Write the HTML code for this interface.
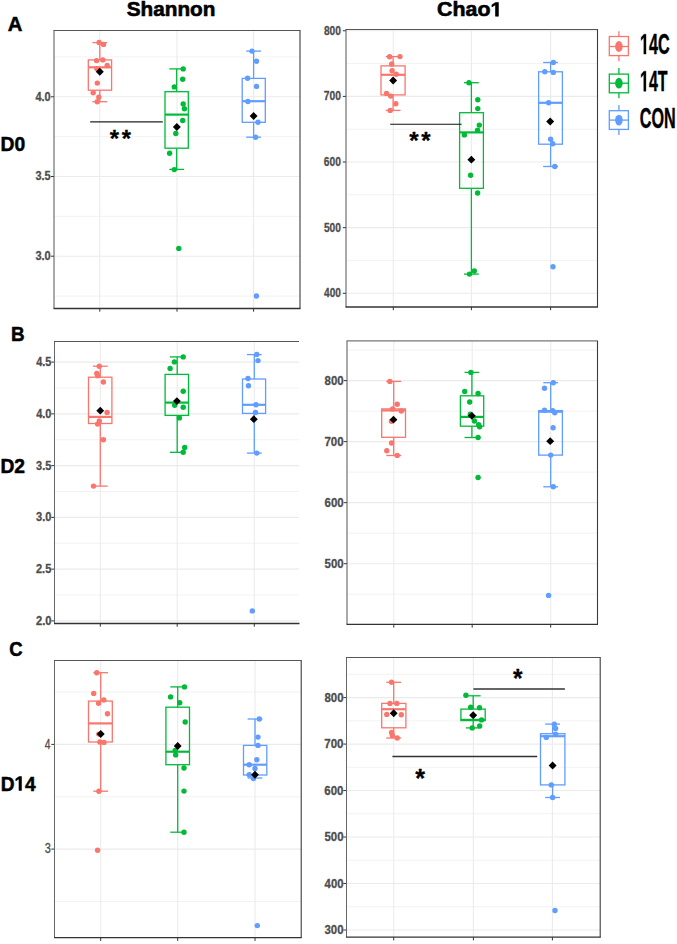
<!DOCTYPE html><html><head><meta charset="utf-8"><style>html,body{margin:0;padding:0;background:#fff;}svg{display:block;font-family:"Liberation Sans", sans-serif;}</style></head><body><svg width="677" height="944" viewBox="0 0 677 944" font-family="Liberation Sans, sans-serif">
<rect width="677" height="944" fill="#fff"/>
<line x1="54.00" y1="56.95" x2="300.00" y2="56.95" stroke="#F0F0F0" stroke-width="0.9"/>
<line x1="54.00" y1="136.65" x2="300.00" y2="136.65" stroke="#F0F0F0" stroke-width="0.9"/>
<line x1="54.00" y1="216.35" x2="300.00" y2="216.35" stroke="#F0F0F0" stroke-width="0.9"/>
<line x1="54.00" y1="296.05" x2="300.00" y2="296.05" stroke="#F0F0F0" stroke-width="0.9"/>
<line x1="54.00" y1="96.80" x2="300.00" y2="96.80" stroke="#EBEBEB" stroke-width="1.1"/>
<line x1="54.00" y1="176.50" x2="300.00" y2="176.50" stroke="#EBEBEB" stroke-width="1.1"/>
<line x1="54.00" y1="256.20" x2="300.00" y2="256.20" stroke="#EBEBEB" stroke-width="1.1"/>
<line x1="99.80" y1="30.50" x2="99.80" y2="308.50" stroke="#EBEBEB" stroke-width="1.1"/>
<line x1="177.00" y1="30.50" x2="177.00" y2="308.50" stroke="#EBEBEB" stroke-width="1.1"/>
<line x1="253.60" y1="30.50" x2="253.60" y2="308.50" stroke="#EBEBEB" stroke-width="1.1"/>
<line x1="50.80" y1="96.80" x2="54.00" y2="96.80" stroke="#333" stroke-width="1"/>
<g transform="translate(35.48,100.52) scale(0.8332,1)" fill="#4D4D4D" stroke="#4D4D4D" stroke-width="0.3"><text x="0.00" y="0" font-size="13.14" font-weight="bold">4.0</text></g>
<line x1="50.80" y1="176.50" x2="54.00" y2="176.50" stroke="#333" stroke-width="1"/>
<g transform="translate(35.40,180.20) scale(0.8316,1)" fill="#4D4D4D" stroke="#4D4D4D" stroke-width="0.3"><text x="0.00" y="0" font-size="13.11" font-weight="bold">3.5</text></g>
<line x1="50.80" y1="256.20" x2="54.00" y2="256.20" stroke="#333" stroke-width="1"/>
<g transform="translate(35.40,259.90) scale(0.8399,1)" fill="#4D4D4D" stroke="#4D4D4D" stroke-width="0.3"><text x="0.00" y="0" font-size="13.11" font-weight="bold">3.0</text></g>
<line x1="99.80" y1="308.50" x2="99.80" y2="311.70" stroke="#333" stroke-width="1"/>
<line x1="177.00" y1="308.50" x2="177.00" y2="311.70" stroke="#333" stroke-width="1"/>
<line x1="253.60" y1="308.50" x2="253.60" y2="311.70" stroke="#333" stroke-width="1"/>
<line x1="99.80" y1="42.60" x2="99.80" y2="59.90" stroke="#F8766D" stroke-width="1.3"/>
<line x1="99.80" y1="90.20" x2="99.80" y2="101.70" stroke="#F8766D" stroke-width="1.3"/>
<line x1="92.40" y1="42.60" x2="107.20" y2="42.60" stroke="#F8766D" stroke-width="1.3"/>
<line x1="92.40" y1="101.70" x2="107.20" y2="101.70" stroke="#F8766D" stroke-width="1.3"/>
<rect x="88.30" y="59.90" width="23.30" height="30.30" fill="none" stroke="#F8766D" stroke-width="1.3"/>
<line x1="88.30" y1="67.30" x2="111.60" y2="67.30" stroke="#F8766D" stroke-width="2.2"/>
<circle cx="99.1" cy="42.5" r="2.7" fill="#F8766D"/>
<circle cx="103.5" cy="44.4" r="2.7" fill="#F8766D"/>
<circle cx="96.6" cy="60.6" r="2.7" fill="#F8766D"/>
<circle cx="102.8" cy="59.9" r="2.7" fill="#F8766D"/>
<circle cx="107.2" cy="65.5" r="2.7" fill="#F8766D"/>
<circle cx="96.9" cy="68.7" r="2.7" fill="#F8766D"/>
<circle cx="97.3" cy="83.1" r="2.7" fill="#F8766D"/>
<circle cx="93.2" cy="92.8" r="2.7" fill="#F8766D"/>
<circle cx="98.8" cy="97.1" r="2.7" fill="#F8766D"/>
<circle cx="97.3" cy="101.7" r="2.7" fill="#F8766D"/>
<path d="M99.8 67.8L103.8 71.7L99.8 75.7L95.8 71.7Z" fill="#000"/>
<line x1="176.70" y1="68.90" x2="176.70" y2="91.70" stroke="#00BA38" stroke-width="1.3"/>
<line x1="176.70" y1="148.20" x2="176.70" y2="169.40" stroke="#00BA38" stroke-width="1.3"/>
<line x1="169.30" y1="68.90" x2="184.10" y2="68.90" stroke="#00BA38" stroke-width="1.3"/>
<line x1="169.30" y1="169.40" x2="184.10" y2="169.40" stroke="#00BA38" stroke-width="1.3"/>
<rect x="165.00" y="91.70" width="23.30" height="56.50" fill="none" stroke="#00BA38" stroke-width="1.3"/>
<line x1="165.00" y1="114.60" x2="188.30" y2="114.60" stroke="#00BA38" stroke-width="2.2"/>
<circle cx="183.2" cy="68.9" r="2.7" fill="#00BA38"/>
<circle cx="182.7" cy="79.2" r="2.7" fill="#00BA38"/>
<circle cx="174.3" cy="86.9" r="2.7" fill="#00BA38"/>
<circle cx="183.2" cy="103.9" r="2.7" fill="#00BA38"/>
<circle cx="184.4" cy="108.8" r="2.7" fill="#00BA38"/>
<circle cx="182.7" cy="120.5" r="2.7" fill="#00BA38"/>
<circle cx="175.8" cy="133.5" r="2.7" fill="#00BA38"/>
<circle cx="169.6" cy="153.2" r="2.7" fill="#00BA38"/>
<circle cx="174.3" cy="169.6" r="2.7" fill="#00BA38"/>
<circle cx="178.8" cy="248.4" r="2.7" fill="#00BA38"/>
<path d="M176.8 123.1L180.8 127.1L176.8 131.0L172.9 127.1Z" fill="#000"/>
<line x1="253.60" y1="51.10" x2="253.60" y2="78.40" stroke="#619CFF" stroke-width="1.3"/>
<line x1="253.60" y1="122.30" x2="253.60" y2="137.20" stroke="#619CFF" stroke-width="1.3"/>
<line x1="246.20" y1="51.10" x2="261.00" y2="51.10" stroke="#619CFF" stroke-width="1.3"/>
<line x1="246.20" y1="137.20" x2="261.00" y2="137.20" stroke="#619CFF" stroke-width="1.3"/>
<rect x="242.20" y="78.40" width="23.10" height="43.90" fill="none" stroke="#619CFF" stroke-width="1.3"/>
<line x1="242.20" y1="101.20" x2="265.30" y2="101.20" stroke="#619CFF" stroke-width="2.2"/>
<circle cx="252.0" cy="51.1" r="2.7" fill="#619CFF"/>
<circle cx="256.5" cy="61.2" r="2.7" fill="#619CFF"/>
<circle cx="247.6" cy="78.3" r="2.7" fill="#619CFF"/>
<circle cx="256.5" cy="86.4" r="2.7" fill="#619CFF"/>
<circle cx="247.9" cy="101.5" r="2.7" fill="#619CFF"/>
<circle cx="258.0" cy="122.3" r="2.7" fill="#619CFF"/>
<circle cx="255.6" cy="137.2" r="2.7" fill="#619CFF"/>
<circle cx="256.4" cy="296.0" r="2.7" fill="#619CFF"/>
<path d="M253.6 112.1L257.6 116.1L253.6 120.0L249.7 116.1Z" fill="#000"/>
<line x1="54.00" y1="30.50" x2="54.00" y2="308.50" stroke="#555" stroke-width="1.0"/>
<line x1="53.50" y1="30.50" x2="300.50" y2="30.50" stroke="#555" stroke-width="1.1"/>
<line x1="300.00" y1="30.50" x2="300.00" y2="308.50" stroke="#3c3c3c" stroke-width="1.1"/>
<line x1="53.50" y1="308.50" x2="300.50" y2="308.50" stroke="#333" stroke-width="1.3"/>
<line x1="346.00" y1="63.58" x2="597.50" y2="63.58" stroke="#F0F0F0" stroke-width="0.9"/>
<line x1="346.00" y1="129.22" x2="597.50" y2="129.22" stroke="#F0F0F0" stroke-width="0.9"/>
<line x1="346.00" y1="194.85" x2="597.50" y2="194.85" stroke="#F0F0F0" stroke-width="0.9"/>
<line x1="346.00" y1="260.48" x2="597.50" y2="260.48" stroke="#F0F0F0" stroke-width="0.9"/>
<line x1="346.00" y1="30.77" x2="597.50" y2="30.77" stroke="#EBEBEB" stroke-width="1.1"/>
<line x1="346.00" y1="96.40" x2="597.50" y2="96.40" stroke="#EBEBEB" stroke-width="1.1"/>
<line x1="346.00" y1="162.03" x2="597.50" y2="162.03" stroke="#EBEBEB" stroke-width="1.1"/>
<line x1="346.00" y1="227.67" x2="597.50" y2="227.67" stroke="#EBEBEB" stroke-width="1.1"/>
<line x1="346.00" y1="293.30" x2="597.50" y2="293.30" stroke="#EBEBEB" stroke-width="1.1"/>
<line x1="393.30" y1="29.50" x2="393.30" y2="307.00" stroke="#EBEBEB" stroke-width="1.1"/>
<line x1="471.40" y1="29.50" x2="471.40" y2="307.00" stroke="#EBEBEB" stroke-width="1.1"/>
<line x1="550.60" y1="29.50" x2="550.60" y2="307.00" stroke="#EBEBEB" stroke-width="1.1"/>
<line x1="342.80" y1="30.77" x2="346.00" y2="30.77" stroke="#333" stroke-width="1"/>
<g transform="translate(323.93,34.79) scale(0.7777,1)" fill="#4D4D4D" stroke="#4D4D4D" stroke-width="0.3"><text x="0.00" y="0" font-size="13.14" font-weight="bold">800</text></g>
<line x1="342.80" y1="96.40" x2="346.00" y2="96.40" stroke="#333" stroke-width="1"/>
<g transform="translate(323.81,100.42) scale(0.7832,1)" fill="#4D4D4D" stroke="#4D4D4D" stroke-width="0.3"><text x="0.00" y="0" font-size="13.14" font-weight="bold">700</text></g>
<line x1="342.80" y1="162.03" x2="346.00" y2="162.03" stroke="#333" stroke-width="1"/>
<g transform="translate(323.87,166.06) scale(0.7800,1)" fill="#4D4D4D" stroke="#4D4D4D" stroke-width="0.3"><text x="0.00" y="0" font-size="13.14" font-weight="bold">600</text></g>
<line x1="342.80" y1="227.67" x2="346.00" y2="227.67" stroke="#333" stroke-width="1"/>
<g transform="translate(323.94,231.69) scale(0.7772,1)" fill="#4D4D4D" stroke="#4D4D4D" stroke-width="0.3"><text x="0.00" y="0" font-size="13.14" font-weight="bold">500</text></g>
<line x1="342.80" y1="293.30" x2="346.00" y2="293.30" stroke="#333" stroke-width="1"/>
<g transform="translate(324.10,297.32) scale(0.7697,1)" fill="#4D4D4D" stroke="#4D4D4D" stroke-width="0.3"><text x="0.00" y="0" font-size="13.14" font-weight="bold">400</text></g>
<line x1="393.30" y1="307.00" x2="393.30" y2="310.20" stroke="#333" stroke-width="1"/>
<line x1="471.40" y1="307.00" x2="471.40" y2="310.20" stroke="#333" stroke-width="1"/>
<line x1="550.60" y1="307.00" x2="550.60" y2="310.20" stroke="#333" stroke-width="1"/>
<line x1="393.10" y1="56.60" x2="393.10" y2="65.90" stroke="#F8766D" stroke-width="1.3"/>
<line x1="393.10" y1="94.90" x2="393.10" y2="110.40" stroke="#F8766D" stroke-width="1.3"/>
<line x1="385.70" y1="56.60" x2="400.50" y2="56.60" stroke="#F8766D" stroke-width="1.3"/>
<line x1="385.70" y1="110.40" x2="400.50" y2="110.40" stroke="#F8766D" stroke-width="1.3"/>
<rect x="381.00" y="65.90" width="24.10" height="29.00" fill="none" stroke="#F8766D" stroke-width="1.3"/>
<line x1="381.00" y1="74.80" x2="405.10" y2="74.80" stroke="#F8766D" stroke-width="2.2"/>
<circle cx="389.6" cy="56.8" r="2.7" fill="#F8766D"/>
<circle cx="400.0" cy="56.6" r="2.7" fill="#F8766D"/>
<circle cx="391.7" cy="64.0" r="2.7" fill="#F8766D"/>
<circle cx="392.1" cy="70.7" r="2.7" fill="#F8766D"/>
<circle cx="396.2" cy="74.2" r="2.7" fill="#F8766D"/>
<circle cx="386.5" cy="93.4" r="2.7" fill="#F8766D"/>
<circle cx="390.7" cy="96.1" r="2.7" fill="#F8766D"/>
<circle cx="395.8" cy="103.7" r="2.7" fill="#F8766D"/>
<circle cx="390.2" cy="110.4" r="2.7" fill="#F8766D"/>
<path d="M393.1 76.5L397.1 80.4L393.1 84.4L389.2 80.4Z" fill="#000"/>
<line x1="471.40" y1="82.70" x2="471.40" y2="112.70" stroke="#00BA38" stroke-width="1.3"/>
<line x1="471.40" y1="188.30" x2="471.40" y2="274.10" stroke="#00BA38" stroke-width="1.3"/>
<line x1="464.00" y1="82.70" x2="478.80" y2="82.70" stroke="#00BA38" stroke-width="1.3"/>
<line x1="464.00" y1="274.10" x2="478.80" y2="274.10" stroke="#00BA38" stroke-width="1.3"/>
<rect x="459.60" y="112.70" width="23.80" height="75.60" fill="none" stroke="#00BA38" stroke-width="1.3"/>
<line x1="459.60" y1="132.40" x2="483.40" y2="132.40" stroke="#00BA38" stroke-width="2.2"/>
<circle cx="469.0" cy="82.7" r="2.7" fill="#00BA38"/>
<circle cx="477.8" cy="99.7" r="2.7" fill="#00BA38"/>
<circle cx="477.8" cy="108.6" r="2.7" fill="#00BA38"/>
<circle cx="479.3" cy="125.1" r="2.7" fill="#00BA38"/>
<circle cx="477.6" cy="130.3" r="2.7" fill="#00BA38"/>
<circle cx="464.4" cy="134.9" r="2.7" fill="#00BA38"/>
<circle cx="470.6" cy="175.2" r="2.7" fill="#00BA38"/>
<circle cx="477.6" cy="193.0" r="2.7" fill="#00BA38"/>
<circle cx="469.5" cy="274.1" r="2.7" fill="#00BA38"/>
<circle cx="474.3" cy="271.0" r="2.7" fill="#00BA38"/>
<path d="M471.4 155.8L475.3 159.7L471.4 163.6L467.4 159.7Z" fill="#000"/>
<line x1="550.60" y1="62.50" x2="550.60" y2="71.80" stroke="#619CFF" stroke-width="1.3"/>
<line x1="550.60" y1="144.20" x2="550.60" y2="166.50" stroke="#619CFF" stroke-width="1.3"/>
<line x1="543.20" y1="62.50" x2="558.00" y2="62.50" stroke="#619CFF" stroke-width="1.3"/>
<line x1="543.20" y1="166.50" x2="558.00" y2="166.50" stroke="#619CFF" stroke-width="1.3"/>
<rect x="538.60" y="71.80" width="23.80" height="72.40" fill="none" stroke="#619CFF" stroke-width="1.3"/>
<line x1="538.60" y1="102.80" x2="562.40" y2="102.80" stroke="#619CFF" stroke-width="2.2"/>
<circle cx="553.3" cy="62.5" r="2.7" fill="#619CFF"/>
<circle cx="544.8" cy="71.8" r="2.7" fill="#619CFF"/>
<circle cx="553.3" cy="72.4" r="2.7" fill="#619CFF"/>
<circle cx="548.6" cy="102.8" r="2.7" fill="#619CFF"/>
<circle cx="550.6" cy="139.2" r="2.7" fill="#619CFF"/>
<circle cx="552.7" cy="143.7" r="2.7" fill="#619CFF"/>
<circle cx="554.8" cy="166.5" r="2.7" fill="#619CFF"/>
<circle cx="553.0" cy="266.7" r="2.7" fill="#619CFF"/>
<path d="M550.2 117.6L554.2 121.6L550.2 125.5L546.2 121.6Z" fill="#000"/>
<line x1="346.00" y1="29.50" x2="346.00" y2="307.00" stroke="#555" stroke-width="1.0"/>
<line x1="345.50" y1="29.50" x2="598.00" y2="29.50" stroke="#555" stroke-width="1.1"/>
<line x1="597.50" y1="29.50" x2="597.50" y2="307.00" stroke="#3c3c3c" stroke-width="1.1"/>
<line x1="345.50" y1="307.00" x2="598.00" y2="307.00" stroke="#333" stroke-width="1.3"/>
<line x1="54.50" y1="387.98" x2="299.00" y2="387.98" stroke="#F0F0F0" stroke-width="0.9"/>
<line x1="54.50" y1="439.74" x2="299.00" y2="439.74" stroke="#F0F0F0" stroke-width="0.9"/>
<line x1="54.50" y1="491.50" x2="299.00" y2="491.50" stroke="#F0F0F0" stroke-width="0.9"/>
<line x1="54.50" y1="543.26" x2="299.00" y2="543.26" stroke="#F0F0F0" stroke-width="0.9"/>
<line x1="54.50" y1="595.02" x2="299.00" y2="595.02" stroke="#F0F0F0" stroke-width="0.9"/>
<line x1="54.50" y1="362.10" x2="299.00" y2="362.10" stroke="#EBEBEB" stroke-width="1.1"/>
<line x1="54.50" y1="413.86" x2="299.00" y2="413.86" stroke="#EBEBEB" stroke-width="1.1"/>
<line x1="54.50" y1="465.62" x2="299.00" y2="465.62" stroke="#EBEBEB" stroke-width="1.1"/>
<line x1="54.50" y1="517.38" x2="299.00" y2="517.38" stroke="#EBEBEB" stroke-width="1.1"/>
<line x1="54.50" y1="569.14" x2="299.00" y2="569.14" stroke="#EBEBEB" stroke-width="1.1"/>
<line x1="54.50" y1="620.90" x2="299.00" y2="620.90" stroke="#EBEBEB" stroke-width="1.1"/>
<line x1="100.30" y1="341.50" x2="100.30" y2="623.50" stroke="#EBEBEB" stroke-width="1.1"/>
<line x1="177.20" y1="341.50" x2="177.20" y2="623.50" stroke="#EBEBEB" stroke-width="1.1"/>
<line x1="254.30" y1="341.50" x2="254.30" y2="623.50" stroke="#EBEBEB" stroke-width="1.1"/>
<line x1="51.30" y1="362.10" x2="54.50" y2="362.10" stroke="#333" stroke-width="1"/>
<g transform="translate(36.18,366.12) scale(0.8187,1)" fill="#4D4D4D" stroke="#4D4D4D" stroke-width="0.3"><text x="0.00" y="0" font-size="13.33" font-weight="bold">4.5</text></g>
<line x1="51.30" y1="413.86" x2="54.50" y2="413.86" stroke="#333" stroke-width="1"/>
<g transform="translate(36.18,417.88) scale(0.8389,1)" fill="#4D4D4D" stroke="#4D4D4D" stroke-width="0.3"><text x="0.00" y="0" font-size="13.14" font-weight="bold">4.0</text></g>
<line x1="51.30" y1="465.62" x2="54.50" y2="465.62" stroke="#333" stroke-width="1"/>
<g transform="translate(36.10,469.62) scale(0.8373,1)" fill="#4D4D4D" stroke="#4D4D4D" stroke-width="0.3"><text x="0.00" y="0" font-size="13.11" font-weight="bold">3.5</text></g>
<line x1="51.30" y1="517.38" x2="54.50" y2="517.38" stroke="#333" stroke-width="1"/>
<g transform="translate(36.10,521.38) scale(0.8456,1)" fill="#4D4D4D" stroke="#4D4D4D" stroke-width="0.3"><text x="0.00" y="0" font-size="13.11" font-weight="bold">3.0</text></g>
<line x1="51.30" y1="569.14" x2="54.50" y2="569.14" stroke="#333" stroke-width="1"/>
<g transform="translate(35.97,573.16) scale(0.8429,1)" fill="#4D4D4D" stroke="#4D4D4D" stroke-width="0.3"><text x="0.00" y="0" font-size="13.14" font-weight="bold">2.5</text></g>
<line x1="51.30" y1="620.90" x2="54.50" y2="620.90" stroke="#333" stroke-width="1"/>
<g transform="translate(35.96,624.92) scale(0.8514,1)" fill="#4D4D4D" stroke="#4D4D4D" stroke-width="0.3"><text x="0.00" y="0" font-size="13.14" font-weight="bold">2.0</text></g>
<line x1="100.30" y1="623.50" x2="100.30" y2="626.70" stroke="#333" stroke-width="1"/>
<line x1="177.20" y1="623.50" x2="177.20" y2="626.70" stroke="#333" stroke-width="1"/>
<line x1="254.30" y1="623.50" x2="254.30" y2="626.70" stroke="#333" stroke-width="1"/>
<line x1="100.30" y1="366.20" x2="100.30" y2="377.20" stroke="#F8766D" stroke-width="1.3"/>
<line x1="100.30" y1="423.50" x2="100.30" y2="486.10" stroke="#F8766D" stroke-width="1.3"/>
<line x1="92.90" y1="366.20" x2="107.70" y2="366.20" stroke="#F8766D" stroke-width="1.3"/>
<line x1="92.90" y1="486.10" x2="107.70" y2="486.10" stroke="#F8766D" stroke-width="1.3"/>
<rect x="88.50" y="377.20" width="23.40" height="46.30" fill="none" stroke="#F8766D" stroke-width="1.3"/>
<line x1="88.50" y1="416.90" x2="111.90" y2="416.90" stroke="#F8766D" stroke-width="2.2"/>
<circle cx="99.3" cy="366.2" r="2.7" fill="#F8766D"/>
<circle cx="96.8" cy="373.5" r="2.7" fill="#F8766D"/>
<circle cx="97.8" cy="375.8" r="2.7" fill="#F8766D"/>
<circle cx="103.4" cy="382.0" r="2.7" fill="#F8766D"/>
<circle cx="107.1" cy="412.4" r="2.7" fill="#F8766D"/>
<circle cx="99.3" cy="421.0" r="2.7" fill="#F8766D"/>
<circle cx="97.6" cy="424.1" r="2.7" fill="#F8766D"/>
<circle cx="103.4" cy="439.7" r="2.7" fill="#F8766D"/>
<circle cx="93.5" cy="486.1" r="2.7" fill="#F8766D"/>
<path d="M100.3 406.8L104.2 410.7L100.3 414.6L96.3 410.7Z" fill="#000"/>
<line x1="177.20" y1="356.90" x2="177.20" y2="374.40" stroke="#00BA38" stroke-width="1.3"/>
<line x1="177.20" y1="415.40" x2="177.20" y2="452.30" stroke="#00BA38" stroke-width="1.3"/>
<line x1="169.80" y1="356.90" x2="184.60" y2="356.90" stroke="#00BA38" stroke-width="1.3"/>
<line x1="169.80" y1="452.30" x2="184.60" y2="452.30" stroke="#00BA38" stroke-width="1.3"/>
<rect x="165.10" y="374.40" width="23.40" height="41.00" fill="none" stroke="#00BA38" stroke-width="1.3"/>
<line x1="165.10" y1="402.60" x2="188.50" y2="402.60" stroke="#00BA38" stroke-width="2.2"/>
<circle cx="183.2" cy="356.9" r="2.7" fill="#00BA38"/>
<circle cx="174.4" cy="361.9" r="2.7" fill="#00BA38"/>
<circle cx="170.1" cy="368.4" r="2.7" fill="#00BA38"/>
<circle cx="183.2" cy="391.3" r="2.7" fill="#00BA38"/>
<circle cx="174.7" cy="405.3" r="2.7" fill="#00BA38"/>
<circle cx="183.2" cy="407.3" r="2.7" fill="#00BA38"/>
<circle cx="179.4" cy="417.9" r="2.7" fill="#00BA38"/>
<circle cx="184.7" cy="447.5" r="2.7" fill="#00BA38"/>
<circle cx="183.2" cy="452.3" r="2.7" fill="#00BA38"/>
<path d="M176.9 397.2L180.8 401.1L176.9 405.1L173.0 401.1Z" fill="#000"/>
<line x1="254.30" y1="354.60" x2="254.30" y2="379.00" stroke="#619CFF" stroke-width="1.3"/>
<line x1="254.30" y1="413.40" x2="254.30" y2="453.10" stroke="#619CFF" stroke-width="1.3"/>
<line x1="246.90" y1="354.60" x2="261.70" y2="354.60" stroke="#619CFF" stroke-width="1.3"/>
<line x1="246.90" y1="453.10" x2="261.70" y2="453.10" stroke="#619CFF" stroke-width="1.3"/>
<rect x="242.50" y="379.00" width="23.10" height="34.40" fill="none" stroke="#619CFF" stroke-width="1.3"/>
<line x1="242.50" y1="404.80" x2="265.60" y2="404.80" stroke="#619CFF" stroke-width="2.2"/>
<circle cx="256.8" cy="354.4" r="2.7" fill="#619CFF"/>
<circle cx="258.0" cy="360.6" r="2.7" fill="#619CFF"/>
<circle cx="248.0" cy="378.5" r="2.7" fill="#619CFF"/>
<circle cx="248.5" cy="385.8" r="2.7" fill="#619CFF"/>
<circle cx="256.0" cy="404.8" r="2.7" fill="#619CFF"/>
<circle cx="255.5" cy="412.4" r="2.7" fill="#619CFF"/>
<circle cx="256.8" cy="453.1" r="2.7" fill="#619CFF"/>
<circle cx="252.3" cy="610.9" r="2.7" fill="#619CFF"/>
<path d="M253.8 415.2L257.8 419.2L253.8 423.1L249.9 419.2Z" fill="#000"/>
<line x1="54.50" y1="341.50" x2="54.50" y2="623.50" stroke="#666" stroke-width="1.0"/>
<line x1="54.00" y1="341.50" x2="299.00" y2="341.50" stroke="#555" stroke-width="1.1"/>
<line x1="54.00" y1="623.50" x2="299.50" y2="623.50" stroke="#333" stroke-width="1.3"/>
<line x1="347.00" y1="350.08" x2="597.50" y2="350.08" stroke="#F0F0F0" stroke-width="0.9"/>
<line x1="347.00" y1="411.12" x2="597.50" y2="411.12" stroke="#F0F0F0" stroke-width="0.9"/>
<line x1="347.00" y1="472.15" x2="597.50" y2="472.15" stroke="#F0F0F0" stroke-width="0.9"/>
<line x1="347.00" y1="533.18" x2="597.50" y2="533.18" stroke="#F0F0F0" stroke-width="0.9"/>
<line x1="347.00" y1="594.22" x2="597.50" y2="594.22" stroke="#F0F0F0" stroke-width="0.9"/>
<line x1="347.00" y1="380.60" x2="597.50" y2="380.60" stroke="#EBEBEB" stroke-width="1.1"/>
<line x1="347.00" y1="441.63" x2="597.50" y2="441.63" stroke="#EBEBEB" stroke-width="1.1"/>
<line x1="347.00" y1="502.67" x2="597.50" y2="502.67" stroke="#EBEBEB" stroke-width="1.1"/>
<line x1="347.00" y1="563.70" x2="597.50" y2="563.70" stroke="#EBEBEB" stroke-width="1.1"/>
<line x1="393.80" y1="340.90" x2="393.80" y2="624.40" stroke="#EBEBEB" stroke-width="1.1"/>
<line x1="472.20" y1="340.90" x2="472.20" y2="624.40" stroke="#EBEBEB" stroke-width="1.1"/>
<line x1="550.70" y1="340.90" x2="550.70" y2="624.40" stroke="#EBEBEB" stroke-width="1.1"/>
<line x1="343.80" y1="380.60" x2="347.00" y2="380.60" stroke="#333" stroke-width="1"/>
<g transform="translate(324.59,384.62) scale(0.8731,1)" fill="#4D4D4D" stroke="#4D4D4D" stroke-width="0.3"><text x="0.00" y="0" font-size="13.14" font-weight="bold">800</text></g>
<line x1="343.80" y1="441.63" x2="347.00" y2="441.63" stroke="#333" stroke-width="1"/>
<g transform="translate(324.45,445.66) scale(0.8793,1)" fill="#4D4D4D" stroke="#4D4D4D" stroke-width="0.3"><text x="0.00" y="0" font-size="13.14" font-weight="bold">700</text></g>
<line x1="343.80" y1="502.67" x2="347.00" y2="502.67" stroke="#333" stroke-width="1"/>
<g transform="translate(324.53,506.69) scale(0.8758,1)" fill="#4D4D4D" stroke="#4D4D4D" stroke-width="0.3"><text x="0.00" y="0" font-size="13.14" font-weight="bold">600</text></g>
<line x1="343.80" y1="563.70" x2="347.00" y2="563.70" stroke="#333" stroke-width="1"/>
<g transform="translate(324.60,567.72) scale(0.8725,1)" fill="#4D4D4D" stroke="#4D4D4D" stroke-width="0.3"><text x="0.00" y="0" font-size="13.14" font-weight="bold">500</text></g>
<line x1="393.80" y1="624.40" x2="393.80" y2="627.60" stroke="#333" stroke-width="1"/>
<line x1="472.20" y1="624.40" x2="472.20" y2="627.60" stroke="#333" stroke-width="1"/>
<line x1="550.70" y1="624.40" x2="550.70" y2="627.60" stroke="#333" stroke-width="1"/>
<line x1="393.70" y1="381.40" x2="393.70" y2="408.90" stroke="#F8766D" stroke-width="1.3"/>
<line x1="393.70" y1="437.30" x2="393.70" y2="455.50" stroke="#F8766D" stroke-width="1.3"/>
<line x1="386.30" y1="381.40" x2="401.10" y2="381.40" stroke="#F8766D" stroke-width="1.3"/>
<line x1="386.30" y1="455.50" x2="401.10" y2="455.50" stroke="#F8766D" stroke-width="1.3"/>
<rect x="381.70" y="408.90" width="23.80" height="28.40" fill="none" stroke="#F8766D" stroke-width="1.3"/>
<line x1="381.70" y1="410.40" x2="405.50" y2="410.40" stroke="#F8766D" stroke-width="2.2"/>
<circle cx="389.9" cy="381.4" r="2.7" fill="#F8766D"/>
<circle cx="397.2" cy="404.2" r="2.7" fill="#F8766D"/>
<circle cx="392.6" cy="408.9" r="2.7" fill="#F8766D"/>
<circle cx="401.3" cy="411.0" r="2.7" fill="#F8766D"/>
<circle cx="391.4" cy="421.3" r="2.7" fill="#F8766D"/>
<circle cx="391.6" cy="443.0" r="2.7" fill="#F8766D"/>
<circle cx="386.8" cy="450.7" r="2.7" fill="#F8766D"/>
<circle cx="397.2" cy="455.4" r="2.7" fill="#F8766D"/>
<path d="M393.5 415.8L397.4 419.7L393.5 423.6L389.6 419.7Z" fill="#000"/>
<line x1="471.90" y1="372.40" x2="471.90" y2="395.80" stroke="#00BA38" stroke-width="1.3"/>
<line x1="471.90" y1="426.20" x2="471.90" y2="437.50" stroke="#00BA38" stroke-width="1.3"/>
<line x1="464.50" y1="372.40" x2="479.30" y2="372.40" stroke="#00BA38" stroke-width="1.3"/>
<line x1="464.50" y1="437.50" x2="479.30" y2="437.50" stroke="#00BA38" stroke-width="1.3"/>
<rect x="460.40" y="395.80" width="23.30" height="30.40" fill="none" stroke="#00BA38" stroke-width="1.3"/>
<line x1="460.40" y1="416.90" x2="483.70" y2="416.90" stroke="#00BA38" stroke-width="2.2"/>
<circle cx="470.9" cy="372.4" r="2.7" fill="#00BA38"/>
<circle cx="464.7" cy="391.4" r="2.7" fill="#00BA38"/>
<circle cx="478.1" cy="393.5" r="2.7" fill="#00BA38"/>
<circle cx="469.7" cy="402.0" r="2.7" fill="#00BA38"/>
<circle cx="470.3" cy="414.2" r="2.7" fill="#00BA38"/>
<circle cx="474.4" cy="421.0" r="2.7" fill="#00BA38"/>
<circle cx="478.6" cy="424.7" r="2.7" fill="#00BA38"/>
<circle cx="479.6" cy="426.8" r="2.7" fill="#00BA38"/>
<circle cx="478.1" cy="437.5" r="2.7" fill="#00BA38"/>
<circle cx="478.1" cy="477.5" r="2.7" fill="#00BA38"/>
<path d="M471.9 411.9L475.8 415.8L471.9 419.8L467.9 415.8Z" fill="#000"/>
<line x1="550.70" y1="382.70" x2="550.70" y2="410.60" stroke="#619CFF" stroke-width="1.3"/>
<line x1="550.70" y1="455.10" x2="550.70" y2="486.80" stroke="#619CFF" stroke-width="1.3"/>
<line x1="543.30" y1="382.70" x2="558.10" y2="382.70" stroke="#619CFF" stroke-width="1.3"/>
<line x1="543.30" y1="486.80" x2="558.10" y2="486.80" stroke="#619CFF" stroke-width="1.3"/>
<rect x="538.70" y="410.60" width="23.70" height="44.50" fill="none" stroke="#619CFF" stroke-width="1.3"/>
<line x1="538.70" y1="411.70" x2="562.40" y2="411.70" stroke="#619CFF" stroke-width="2.2"/>
<circle cx="553.3" cy="382.7" r="2.7" fill="#619CFF"/>
<circle cx="544.5" cy="388.3" r="2.7" fill="#619CFF"/>
<circle cx="544.5" cy="410.2" r="2.7" fill="#619CFF"/>
<circle cx="552.7" cy="410.6" r="2.7" fill="#619CFF"/>
<circle cx="554.8" cy="412.7" r="2.7" fill="#619CFF"/>
<circle cx="553.1" cy="427.8" r="2.7" fill="#619CFF"/>
<circle cx="550.7" cy="455.1" r="2.7" fill="#619CFF"/>
<circle cx="553.3" cy="486.8" r="2.7" fill="#619CFF"/>
<circle cx="548.6" cy="595.4" r="2.7" fill="#619CFF"/>
<path d="M550.2 437.2L554.2 441.2L550.2 445.1L546.2 441.2Z" fill="#000"/>
<line x1="347.00" y1="340.90" x2="347.00" y2="624.40" stroke="#555" stroke-width="1.0"/>
<line x1="346.50" y1="340.90" x2="598.00" y2="340.90" stroke="#777" stroke-width="1.1"/>
<line x1="597.50" y1="340.90" x2="597.50" y2="624.40" stroke="#3c3c3c" stroke-width="1.1"/>
<line x1="346.50" y1="624.40" x2="598.00" y2="624.40" stroke="#333" stroke-width="1.3"/>
<line x1="54.50" y1="692.05" x2="301.20" y2="692.05" stroke="#F0F0F0" stroke-width="0.9"/>
<line x1="54.50" y1="796.75" x2="301.20" y2="796.75" stroke="#F0F0F0" stroke-width="0.9"/>
<line x1="54.50" y1="901.45" x2="301.20" y2="901.45" stroke="#F0F0F0" stroke-width="0.9"/>
<line x1="54.50" y1="744.40" x2="301.20" y2="744.40" stroke="#EBEBEB" stroke-width="1.1"/>
<line x1="54.50" y1="849.10" x2="301.20" y2="849.10" stroke="#EBEBEB" stroke-width="1.1"/>
<line x1="100.70" y1="660.50" x2="100.70" y2="937.70" stroke="#EBEBEB" stroke-width="1.1"/>
<line x1="177.70" y1="660.50" x2="177.70" y2="937.70" stroke="#EBEBEB" stroke-width="1.1"/>
<line x1="255.00" y1="660.50" x2="255.00" y2="937.70" stroke="#EBEBEB" stroke-width="1.1"/>
<line x1="51.30" y1="744.40" x2="54.50" y2="744.40" stroke="#333" stroke-width="1"/>
<g transform="translate(44.81,748.75) scale(0.7171,1)" fill="#4D4D4D" stroke="#4D4D4D" stroke-width="0.3"><text x="0.00" y="0" font-size="14.39" font-weight="normal">4</text></g>
<line x1="51.30" y1="849.10" x2="54.50" y2="849.10" stroke="#333" stroke-width="1"/>
<g transform="translate(44.63,853.31) scale(0.7844,1)" fill="#4D4D4D" stroke="#4D4D4D" stroke-width="0.3"><text x="0.00" y="0" font-size="13.98" font-weight="normal">3</text></g>
<line x1="100.70" y1="937.70" x2="100.70" y2="940.90" stroke="#333" stroke-width="1"/>
<line x1="177.70" y1="937.70" x2="177.70" y2="940.90" stroke="#333" stroke-width="1"/>
<line x1="255.00" y1="937.70" x2="255.00" y2="940.90" stroke="#333" stroke-width="1"/>
<line x1="100.70" y1="672.70" x2="100.70" y2="701.10" stroke="#F8766D" stroke-width="1.3"/>
<line x1="100.70" y1="742.00" x2="100.70" y2="791.20" stroke="#F8766D" stroke-width="1.3"/>
<line x1="93.30" y1="672.70" x2="108.10" y2="672.70" stroke="#F8766D" stroke-width="1.3"/>
<line x1="93.30" y1="791.20" x2="108.10" y2="791.20" stroke="#F8766D" stroke-width="1.3"/>
<rect x="88.50" y="701.10" width="23.80" height="40.90" fill="none" stroke="#F8766D" stroke-width="1.3"/>
<line x1="88.50" y1="723.40" x2="112.30" y2="723.40" stroke="#F8766D" stroke-width="2.2"/>
<circle cx="96.8" cy="672.7" r="2.7" fill="#F8766D"/>
<circle cx="93.7" cy="693.4" r="2.7" fill="#F8766D"/>
<circle cx="103.8" cy="700.0" r="2.7" fill="#F8766D"/>
<circle cx="98.6" cy="703.3" r="2.7" fill="#F8766D"/>
<circle cx="107.5" cy="713.7" r="2.7" fill="#F8766D"/>
<circle cx="98.8" cy="734.1" r="2.7" fill="#F8766D"/>
<circle cx="99.9" cy="742.0" r="2.7" fill="#F8766D"/>
<circle cx="104.0" cy="742.4" r="2.7" fill="#F8766D"/>
<circle cx="98.9" cy="791.2" r="2.7" fill="#F8766D"/>
<circle cx="97.6" cy="850.2" r="2.7" fill="#F8766D"/>
<path d="M100.7 730.1L104.7 734.1L100.7 738.1L96.8 734.1Z" fill="#000"/>
<line x1="177.70" y1="686.90" x2="177.70" y2="707.20" stroke="#00BA38" stroke-width="1.3"/>
<line x1="177.70" y1="764.70" x2="177.70" y2="832.20" stroke="#00BA38" stroke-width="1.3"/>
<line x1="170.30" y1="686.90" x2="185.10" y2="686.90" stroke="#00BA38" stroke-width="1.3"/>
<line x1="170.30" y1="832.20" x2="185.10" y2="832.20" stroke="#00BA38" stroke-width="1.3"/>
<rect x="165.90" y="707.20" width="23.60" height="57.50" fill="none" stroke="#00BA38" stroke-width="1.3"/>
<line x1="165.90" y1="751.70" x2="189.50" y2="751.70" stroke="#00BA38" stroke-width="2.2"/>
<circle cx="184.5" cy="686.9" r="2.7" fill="#00BA38"/>
<circle cx="170.6" cy="696.9" r="2.7" fill="#00BA38"/>
<circle cx="179.7" cy="702.7" r="2.7" fill="#00BA38"/>
<circle cx="185.2" cy="722.0" r="2.7" fill="#00BA38"/>
<circle cx="175.2" cy="750.4" r="2.7" fill="#00BA38"/>
<circle cx="175.7" cy="754.9" r="2.7" fill="#00BA38"/>
<circle cx="184.0" cy="768.0" r="2.7" fill="#00BA38"/>
<circle cx="184.0" cy="791.1" r="2.7" fill="#00BA38"/>
<circle cx="184.0" cy="832.2" r="2.7" fill="#00BA38"/>
<path d="M177.7 741.9L181.6 745.9L177.7 749.9L173.8 745.9Z" fill="#000"/>
<line x1="255.00" y1="719.00" x2="255.00" y2="745.40" stroke="#619CFF" stroke-width="1.3"/>
<line x1="255.00" y1="775.00" x2="255.00" y2="778.00" stroke="#619CFF" stroke-width="1.3"/>
<line x1="247.60" y1="719.00" x2="262.40" y2="719.00" stroke="#619CFF" stroke-width="1.3"/>
<line x1="247.60" y1="778.00" x2="262.40" y2="778.00" stroke="#619CFF" stroke-width="1.3"/>
<rect x="243.50" y="745.40" width="23.30" height="29.60" fill="none" stroke="#619CFF" stroke-width="1.3"/>
<line x1="243.50" y1="764.70" x2="266.80" y2="764.70" stroke="#619CFF" stroke-width="2.2"/>
<circle cx="259.3" cy="719.0" r="2.7" fill="#619CFF"/>
<circle cx="258.0" cy="737.1" r="2.7" fill="#619CFF"/>
<circle cx="258.0" cy="745.4" r="2.7" fill="#619CFF"/>
<circle cx="256.8" cy="759.7" r="2.7" fill="#619CFF"/>
<circle cx="249.2" cy="764.7" r="2.7" fill="#619CFF"/>
<circle cx="255.0" cy="768.5" r="2.7" fill="#619CFF"/>
<circle cx="249.2" cy="774.8" r="2.7" fill="#619CFF"/>
<circle cx="253.5" cy="778.5" r="2.7" fill="#619CFF"/>
<circle cx="257.3" cy="925.6" r="2.7" fill="#619CFF"/>
<path d="M255.0 770.8L258.9 774.8L255.0 778.8L251.1 774.8Z" fill="#000"/>
<line x1="54.50" y1="660.50" x2="54.50" y2="937.70" stroke="#666" stroke-width="1.0"/>
<line x1="54.00" y1="660.50" x2="301.70" y2="660.50" stroke="#555" stroke-width="1.1"/>
<line x1="301.20" y1="660.50" x2="301.20" y2="937.70" stroke="#3c3c3c" stroke-width="1.1"/>
<line x1="54.00" y1="937.70" x2="301.70" y2="937.70" stroke="#333" stroke-width="1.3"/>
<line x1="346.50" y1="674.36" x2="600.20" y2="674.36" stroke="#F0F0F0" stroke-width="0.9"/>
<line x1="346.50" y1="720.84" x2="600.20" y2="720.84" stroke="#F0F0F0" stroke-width="0.9"/>
<line x1="346.50" y1="767.32" x2="600.20" y2="767.32" stroke="#F0F0F0" stroke-width="0.9"/>
<line x1="346.50" y1="813.80" x2="600.20" y2="813.80" stroke="#F0F0F0" stroke-width="0.9"/>
<line x1="346.50" y1="860.28" x2="600.20" y2="860.28" stroke="#F0F0F0" stroke-width="0.9"/>
<line x1="346.50" y1="906.76" x2="600.20" y2="906.76" stroke="#F0F0F0" stroke-width="0.9"/>
<line x1="346.50" y1="697.60" x2="600.20" y2="697.60" stroke="#EBEBEB" stroke-width="1.1"/>
<line x1="346.50" y1="744.08" x2="600.20" y2="744.08" stroke="#EBEBEB" stroke-width="1.1"/>
<line x1="346.50" y1="790.56" x2="600.20" y2="790.56" stroke="#EBEBEB" stroke-width="1.1"/>
<line x1="346.50" y1="837.04" x2="600.20" y2="837.04" stroke="#EBEBEB" stroke-width="1.1"/>
<line x1="346.50" y1="883.52" x2="600.20" y2="883.52" stroke="#EBEBEB" stroke-width="1.1"/>
<line x1="346.50" y1="930.00" x2="600.20" y2="930.00" stroke="#EBEBEB" stroke-width="1.1"/>
<line x1="393.70" y1="657.50" x2="393.70" y2="937.20" stroke="#EBEBEB" stroke-width="1.1"/>
<line x1="473.40" y1="657.50" x2="473.40" y2="937.20" stroke="#EBEBEB" stroke-width="1.1"/>
<line x1="552.40" y1="657.50" x2="552.40" y2="937.20" stroke="#EBEBEB" stroke-width="1.1"/>
<line x1="343.30" y1="697.60" x2="346.50" y2="697.60" stroke="#333" stroke-width="1"/>
<g transform="translate(324.39,701.62) scale(0.8731,1)" fill="#4D4D4D" stroke="#4D4D4D" stroke-width="0.3"><text x="0.00" y="0" font-size="13.14" font-weight="bold">800</text></g>
<line x1="343.30" y1="744.08" x2="346.50" y2="744.08" stroke="#333" stroke-width="1"/>
<g transform="translate(324.25,748.10) scale(0.8793,1)" fill="#4D4D4D" stroke="#4D4D4D" stroke-width="0.3"><text x="0.00" y="0" font-size="13.14" font-weight="bold">700</text></g>
<line x1="343.30" y1="790.56" x2="346.50" y2="790.56" stroke="#333" stroke-width="1"/>
<g transform="translate(324.33,794.58) scale(0.8758,1)" fill="#4D4D4D" stroke="#4D4D4D" stroke-width="0.3"><text x="0.00" y="0" font-size="13.14" font-weight="bold">600</text></g>
<line x1="343.30" y1="837.04" x2="346.50" y2="837.04" stroke="#333" stroke-width="1"/>
<g transform="translate(324.40,841.06) scale(0.8725,1)" fill="#4D4D4D" stroke="#4D4D4D" stroke-width="0.3"><text x="0.00" y="0" font-size="13.14" font-weight="bold">500</text></g>
<line x1="343.30" y1="883.52" x2="346.50" y2="883.52" stroke="#333" stroke-width="1"/>
<g transform="translate(324.58,887.54) scale(0.8641,1)" fill="#4D4D4D" stroke="#4D4D4D" stroke-width="0.3"><text x="0.00" y="0" font-size="13.14" font-weight="bold">400</text></g>
<line x1="343.30" y1="930.00" x2="346.50" y2="930.00" stroke="#333" stroke-width="1"/>
<g transform="translate(324.49,934.00) scale(0.8701,1)" fill="#4D4D4D" stroke="#4D4D4D" stroke-width="0.3"><text x="0.00" y="0" font-size="13.11" font-weight="bold">300</text></g>
<line x1="393.70" y1="937.20" x2="393.70" y2="940.40" stroke="#333" stroke-width="1"/>
<line x1="473.40" y1="937.20" x2="473.40" y2="940.40" stroke="#333" stroke-width="1"/>
<line x1="552.40" y1="937.20" x2="552.40" y2="940.40" stroke="#333" stroke-width="1"/>
<line x1="393.70" y1="682.30" x2="393.70" y2="703.40" stroke="#F8766D" stroke-width="1.3"/>
<line x1="393.70" y1="727.80" x2="393.70" y2="738.00" stroke="#F8766D" stroke-width="1.3"/>
<line x1="386.30" y1="682.30" x2="401.10" y2="682.30" stroke="#F8766D" stroke-width="1.3"/>
<line x1="386.30" y1="738.00" x2="401.10" y2="738.00" stroke="#F8766D" stroke-width="1.3"/>
<rect x="381.70" y="703.40" width="24.20" height="24.40" fill="none" stroke="#F8766D" stroke-width="1.3"/>
<line x1="381.70" y1="709.20" x2="405.90" y2="709.20" stroke="#F8766D" stroke-width="2.2"/>
<circle cx="391.6" cy="682.3" r="2.7" fill="#F8766D"/>
<circle cx="390.0" cy="703.4" r="2.7" fill="#F8766D"/>
<circle cx="396.8" cy="703.4" r="2.7" fill="#F8766D"/>
<circle cx="386.8" cy="714.4" r="2.7" fill="#F8766D"/>
<circle cx="401.3" cy="714.8" r="2.7" fill="#F8766D"/>
<circle cx="391.6" cy="732.4" r="2.7" fill="#F8766D"/>
<circle cx="392.4" cy="735.5" r="2.7" fill="#F8766D"/>
<circle cx="397.2" cy="738.0" r="2.7" fill="#F8766D"/>
<path d="M393.7 709.3L397.6 713.3L393.7 717.2L389.8 713.3Z" fill="#000"/>
<line x1="473.20" y1="695.80" x2="473.20" y2="709.10" stroke="#00BA38" stroke-width="1.3"/>
<line x1="473.20" y1="720.60" x2="473.20" y2="727.90" stroke="#00BA38" stroke-width="1.3"/>
<line x1="465.80" y1="695.80" x2="480.60" y2="695.80" stroke="#00BA38" stroke-width="1.3"/>
<line x1="465.80" y1="727.90" x2="480.60" y2="727.90" stroke="#00BA38" stroke-width="1.3"/>
<rect x="460.90" y="709.10" width="24.30" height="11.50" fill="none" stroke="#00BA38" stroke-width="1.3"/>
<line x1="460.90" y1="719.90" x2="485.20" y2="719.90" stroke="#00BA38" stroke-width="2.2"/>
<circle cx="465.9" cy="695.2" r="2.7" fill="#00BA38"/>
<circle cx="470.7" cy="707.3" r="2.7" fill="#00BA38"/>
<circle cx="479.5" cy="707.8" r="2.7" fill="#00BA38"/>
<circle cx="481.5" cy="719.9" r="2.7" fill="#00BA38"/>
<circle cx="479.7" cy="725.9" r="2.7" fill="#00BA38"/>
<circle cx="472.2" cy="727.9" r="2.7" fill="#00BA38"/>
<path d="M473.2 711.3L477.1 715.3L473.2 719.2L469.2 715.3Z" fill="#000"/>
<line x1="552.60" y1="724.10" x2="552.60" y2="733.70" stroke="#619CFF" stroke-width="1.3"/>
<line x1="552.60" y1="784.90" x2="552.60" y2="797.50" stroke="#619CFF" stroke-width="1.3"/>
<line x1="545.20" y1="724.10" x2="560.00" y2="724.10" stroke="#619CFF" stroke-width="1.3"/>
<line x1="545.20" y1="797.50" x2="560.00" y2="797.50" stroke="#619CFF" stroke-width="1.3"/>
<rect x="540.50" y="733.70" width="24.40" height="51.20" fill="none" stroke="#619CFF" stroke-width="1.3"/>
<line x1="540.50" y1="736.20" x2="564.90" y2="736.20" stroke="#619CFF" stroke-width="2.2"/>
<circle cx="554.3" cy="724.1" r="2.7" fill="#619CFF"/>
<circle cx="555.6" cy="728.4" r="2.7" fill="#619CFF"/>
<circle cx="555.6" cy="734.2" r="2.7" fill="#619CFF"/>
<circle cx="546.3" cy="737.4" r="2.7" fill="#619CFF"/>
<circle cx="551.3" cy="784.9" r="2.7" fill="#619CFF"/>
<circle cx="552.6" cy="797.5" r="2.7" fill="#619CFF"/>
<circle cx="555.0" cy="910.5" r="2.7" fill="#619CFF"/>
<path d="M552.6 761.6L556.6 765.6L552.6 769.6L548.6 765.6Z" fill="#000"/>
<line x1="346.50" y1="657.50" x2="346.50" y2="937.20" stroke="#666" stroke-width="1.0"/>
<line x1="346.00" y1="657.50" x2="600.70" y2="657.50" stroke="#555" stroke-width="1.1"/>
<line x1="600.20" y1="657.50" x2="600.20" y2="937.20" stroke="#3c3c3c" stroke-width="1.1"/>
<line x1="346.00" y1="937.20" x2="600.70" y2="937.20" stroke="#333" stroke-width="1.3"/>
<line x1="90.20" y1="121.80" x2="162.80" y2="121.80" stroke="#222" stroke-width="1.2"/>
<g transform="translate(109.78,147.36) scale(0.9658,1)" fill="#000" stroke="#000" stroke-width="0.3"><text x="0.00" y="0" font-size="24.73" font-weight="bold">*</text></g>
<g transform="translate(121.68,147.36) scale(0.9553,1)" fill="#000" stroke="#000" stroke-width="0.3"><text x="0.00" y="0" font-size="24.73" font-weight="bold">*</text></g>
<line x1="390.20" y1="124.20" x2="461.60" y2="124.20" stroke="#111" stroke-width="1.15"/>
<g transform="translate(409.18,149.02) scale(1.0207,1)" fill="#000" stroke="#000" stroke-width="0.3"><text x="0.00" y="0" font-size="23.65" font-weight="bold">*</text></g>
<g transform="translate(421.28,149.02) scale(1.0097,1)" fill="#000" stroke="#000" stroke-width="0.3"><text x="0.00" y="0" font-size="23.65" font-weight="bold">*</text></g>
<line x1="473.40" y1="689.00" x2="564.90" y2="689.00" stroke="#333" stroke-width="1.5"/>
<g transform="translate(513.08,686.80) scale(0.9457,1)" fill="#000" stroke="#000" stroke-width="0.3"><text x="0.00" y="0" font-size="25.80" font-weight="bold">*</text></g>
<line x1="392.40" y1="756.50" x2="537.20" y2="756.50" stroke="#333" stroke-width="1.5"/>
<g transform="translate(415.18,787.09) scale(0.9658,1)" fill="#000" stroke="#000" stroke-width="0.3"><text x="0.00" y="0" font-size="26.07" font-weight="bold">*</text></g>
<g transform="translate(126.80,16.20) scale(1.0219,1)" fill="#000" stroke="#000" stroke-width="0.6"><text x="0.00" y="0" font-size="20.29" font-weight="bold">Shannon</text></g>
<g transform="translate(437.12,16.21) scale(1.0737,1)" fill="#000" stroke="#000" stroke-width="0.6"><text x="0.00" y="0" font-size="19.88" font-weight="bold">Chao</text><path transform="translate(49.70,0) scale(0.00971,-0.00971)" d="M478 0V1170L140 959V1180L493 1409H759V0Z" stroke-width="61.8"/></g>
<g transform="translate(7.85,31.35) scale(1.0033,1)" fill="#000" stroke="#000" stroke-width="0.5"><text x="0.00" y="0" font-size="20.20" font-weight="bold">A</text></g>
<g transform="translate(0.56,150.56) scale(0.9835,1)" fill="#000" stroke="#000" stroke-width="0.5"><text x="0.00" y="0" font-size="19.63" font-weight="bold">D0</text></g>
<g transform="translate(11.09,340.75) scale(0.9469,1)" fill="#000" stroke="#000" stroke-width="0.5"><text x="0.00" y="0" font-size="19.91" font-weight="bold">B</text></g>
<g transform="translate(0.47,472.75) scale(0.9862,1)" fill="#000" stroke="#000" stroke-width="0.5"><text x="0.00" y="0" font-size="19.48" font-weight="bold">D2</text></g>
<g transform="translate(9.19,655.96) scale(0.9427,1)" fill="#000" stroke="#000" stroke-width="0.5"><text x="0.00" y="0" font-size="19.63" font-weight="bold">C</text></g>
<g transform="translate(0.67,790.55) scale(0.9398,1)" fill="#000" stroke="#000" stroke-width="0.5"><text x="0.00" y="0" font-size="20.35" font-weight="bold">D</text><path transform="translate(14.70,0) scale(0.00994,-0.00994)" d="M478 0V1170L140 959V1180L493 1409H759V0Z" stroke-width="50.3"/><text x="26.01" y="0" font-size="20.35" font-weight="bold">4</text></g>
<line x1="618.90" y1="31.20" x2="618.90" y2="36.50" stroke="#F8766D" stroke-width="1.3"/>
<line x1="618.90" y1="55.60" x2="618.90" y2="61.30" stroke="#F8766D" stroke-width="1.3"/>
<rect x="609.3" y="36.5" width="19.1" height="19.1" fill="#fff" stroke="#F8766D" stroke-width="1.3"/>
<line x1="609.30" y1="46.50" x2="628.40" y2="46.50" stroke="#F8766D" stroke-width="1.3"/>
<ellipse cx="618.9" cy="46.5" rx="3.8" ry="5.4" fill="#F8766D"/>
<g transform="translate(640.02,54.09) scale(0.5605,1)" fill="#000" stroke="#000" stroke-width="0.45"><path transform="translate(0.00,0) scale(0.01410,-0.01410)" d="M478 0V1170L140 959V1180L493 1409H759V0Z" stroke-width="31.9"/><text x="16.06" y="0" font-size="28.88" font-weight="bold">4C</text></g>
<line x1="618.90" y1="68.10" x2="618.90" y2="74.10" stroke="#00BA38" stroke-width="1.3"/>
<line x1="618.90" y1="92.80" x2="618.90" y2="98.20" stroke="#00BA38" stroke-width="1.3"/>
<rect x="609.3" y="74.1" width="19.1" height="18.7" fill="#fff" stroke="#00BA38" stroke-width="1.3"/>
<line x1="609.30" y1="83.20" x2="628.40" y2="83.20" stroke="#00BA38" stroke-width="1.3"/>
<ellipse cx="618.9" cy="83.2" rx="3.8" ry="5.4" fill="#00BA38"/>
<g transform="translate(640.03,91.28) scale(0.5452,1)" fill="#000" stroke="#000" stroke-width="0.45"><path transform="translate(0.00,0) scale(0.01430,-0.01430)" d="M478 0V1170L140 959V1180L493 1409H759V0Z" stroke-width="31.5"/><text x="16.29" y="0" font-size="29.29" font-weight="bold">4T</text></g>
<line x1="618.90" y1="105.00" x2="618.90" y2="110.70" stroke="#619CFF" stroke-width="1.3"/>
<line x1="618.90" y1="129.40" x2="618.90" y2="135.10" stroke="#619CFF" stroke-width="1.3"/>
<rect x="609.3" y="110.7" width="19.1" height="18.7" fill="#fff" stroke="#619CFF" stroke-width="1.3"/>
<line x1="609.30" y1="120.10" x2="628.40" y2="120.10" stroke="#619CFF" stroke-width="1.3"/>
<ellipse cx="618.9" cy="120.1" rx="3.8" ry="5.4" fill="#619CFF"/>
<g transform="translate(639.86,128.29) scale(0.5486,1)" fill="#000" stroke="#000" stroke-width="0.45"><text x="0.00" y="0" font-size="29.45" font-weight="bold">CON</text></g>
</svg></body></html>
